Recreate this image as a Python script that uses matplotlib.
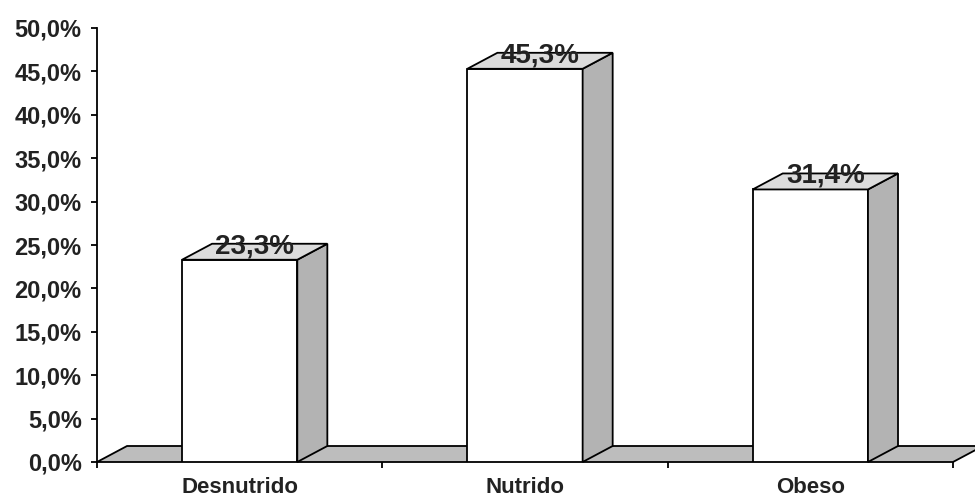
import matplotlib.pyplot as plt
from matplotlib.patches import Polygon

categories = ['Desnutrido', 'Nutrido', 'Obeso']
values = [23.3, 45.3, 31.4]
labels = ['23,3%', '45,3%', '31,4%']
yticks = [0, 5, 10, 15, 20, 25, 30, 35, 40, 45, 50]

plt.rcParams['font.family'] = ['Liberation Sans', 'DejaVu Sans']

fig = plt.figure(figsize=(9.75, 5), dpi=100)
ax = fig.add_axes([97 / 975, 38 / 500, (953 - 97) / 975, 434 / 500])
ax.set_xlim(0, 3)
ax.set_ylim(0, 50)

# 3D depth offsets (data units)
dx = 30 / 285
dy = 16 / 8.68
width = 0.404

# floor
floor = Polygon([(0, 0), (dx, dy), (3 + dx, dy), (3, 0)], closed=True,
                facecolor='#bdbdbd', edgecolor='black', lw=1.3, clip_on=False, zorder=1)
ax.add_patch(floor)

xs = [i + 0.5 for i in range(len(categories))]
ax.bar(xs, values, width=width, color='white', edgecolor='black', lw=1.3, zorder=3)
for x, v, lab in zip(xs, values, labels):
    l, r = x - width / 2, x + width / 2
    side = Polygon([(r, 0), (r + dx, dy), (r + dx, v + dy), (r, v)], closed=True,
                   facecolor='#b3b3b3', edgecolor='black', lw=1.3, zorder=3, clip_on=False)
    top = Polygon([(l, v), (l + dx, v + dy), (r + dx, v + dy), (r, v)], closed=True,
                  facecolor='#dcdcdc', edgecolor='black', lw=1.3, zorder=3, clip_on=False)
    ax.add_patch(side)
    ax.add_patch(top)
    ax.text(x + dx / 2, v + 0.75, lab, ha='center', va='baseline', fontsize=20,
            fontweight='bold', color='#222222', zorder=5)

for s in ['top', 'right', 'bottom']:
    ax.spines[s].set_visible(False)
ax.spines['left'].set_linewidth(1.3)
ax.spines['left'].set_zorder(4)

ax.set_yticks(yticks)
ax.set_yticklabels([f'{t:.1f}'.replace('.', ',') + '%' for t in yticks],
                   fontsize=17, fontweight='bold', color='#222222')
ax.tick_params(axis='y', length=4, width=1.3, pad=7)

ax.set_xticks([0, 1, 2, 3])
ax.set_xticklabels([])
ax.tick_params(axis='x', which='major', length=4, width=1.3, direction='out')
ax.set_xticks(xs, minor=True)
ax.set_xticklabels(categories, minor=True, fontsize=16, fontweight='bold', color='#222222')
ax.tick_params(axis='x', which='minor', length=0, pad=11)

fig.savefig('out.png', dpi=100)
